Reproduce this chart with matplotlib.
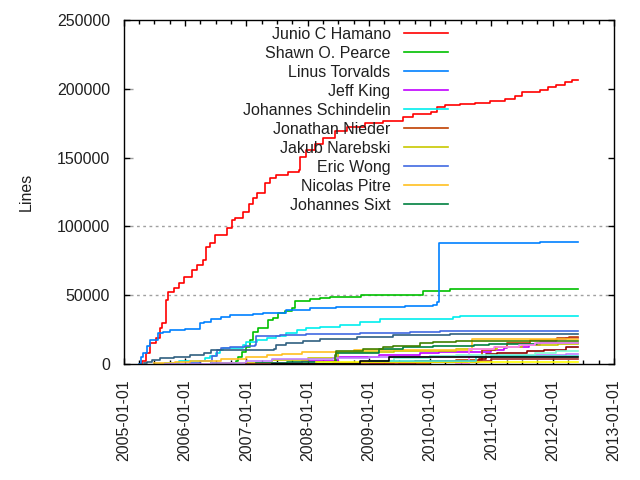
import numpy as np
import matplotlib
matplotlib.use('Agg')
import matplotlib.pyplot as plt
import matplotlib.dates as mdates

#############################
# data: lines per author ####
#############################

end_day = '2012-05-30'

junio_dates = ['2005-04-05', '2005-04-19', '2005-05-11', '2005-06-08', '2005-07-08', '2005-08-03',
               '2005-08-16', '2005-09-09', '2005-09-21', '2005-10-26', '2005-11-22', '2005-12-26',
               '2006-02-08', '2006-03-11', '2006-04-17', '2006-05-07', '2006-05-27', '2006-06-27',
               '2006-09-05', '2006-10-05', '2006-10-24', '2006-12-14', '2007-01-15', '2007-02-10',
               '2007-03-03', '2007-04-22', '2007-05-20', '2007-06-28', '2007-09-05', '2007-11-13',
               '2007-11-18', '2007-12-24', '2008-02-14', '2008-04-03', '2008-06-10', '2008-08-20',
               '2008-12-06', '2009-03-26', '2009-07-24', '2009-09-22', '2010-01-08', '2010-02-08',
               '2010-03-29', '2010-06-27', '2010-09-25', '2010-12-23', '2011-03-22', '2011-05-19',
               '2011-07-01', '2011-10-16', '2011-12-03', '2012-01-20', '2012-03-14', '2012-04-24']
junio_lines = [0, 2000, 8000, 15000, 19000, 26000,
               30000, 46500, 52500, 55000, 58800, 63000,
               68300, 72000, 75600, 85200, 88000, 93700,
               98600, 104600, 106000, 110700, 116000, 120400,
               124000, 131300, 135000, 137400, 139500, 141000,
               150700, 155500, 160000, 164000, 169000, 172500,
               175000, 176800, 179700, 181700, 183400, 187000,
               188500, 189000, 190000, 191000, 192500, 195000,
               197500, 199000, 201500, 203000, 205000, 206500]

shawn_dates = ['2006-06-01', '2006-10-31', '2006-11-14', '2006-12-05', '2006-12-28', '2007-01-23',
               '2007-02-10', '2007-03-12', '2007-05-12', '2007-06-10', '2007-07-09', '2007-08-18',
               '2007-09-27', '2007-10-16', '2008-01-15', '2008-03-14', '2008-05-12', '2008-08-20',
               '2008-11-17', '2009-11-09', '2009-11-20', '2010-04-28']
shawn_lines = [500, 2000, 5300, 9000, 12000, 17400,
               23500, 25900, 32000, 33200, 36800, 38700,
               40500, 46000, 47000, 47700, 48500, 48900,
               49900, 50400, 53300, 54300]

linus_dates = ['2005-04-01', '2005-04-12', '2005-04-25', '2005-05-20', '2005-06-08', '2005-07-20',
               '2005-08-20', '2005-10-01', '2006-01-01', '2006-04-02', '2006-04-22', '2006-06-01',
               '2006-07-31', '2006-09-28', '2007-02-10', '2007-04-10', '2007-08-28', '2008-01-15',
               '2008-06-21', '2009-01-26', '2009-08-04', '2010-01-19', '2010-02-10', '2010-02-24',
               '2011-02-20', '2011-10-15']
linus_lines = [0, 5000, 8000, 13000, 17400, 22500,
               23500, 24700, 25400, 29500, 30700, 32700,
               34400, 35600, 36100, 37300, 39200, 40500,
               41200, 41700, 42400, 42900, 45300, 87700,
               88200, 88400]

jeff_dates = ['2007-04-01', '2007-12-01', '2008-07-01', '2009-03-01', '2009-11-01', '2010-02-20',
              '2010-07-20', '2011-01-01', '2011-03-15', '2011-04-01', '2011-08-15', '2011-10-20',
              '2012-01-20', '2012-03-20']
jeff_lines = [500, 2000, 4800, 6500, 7700, 8500,
              9000, 10200, 11400, 12600, 13800, 16200,
              18000, 19200]

dscho_dates = ['2005-09-01', '2005-11-22', '2006-04-27', '2006-05-27', '2006-07-05', '2006-07-26',
               '2006-08-15', '2006-12-14', '2007-01-01', '2007-03-03', '2007-05-01', '2007-06-28',
               '2007-08-28', '2007-10-27', '2007-12-24', '2008-03-14', '2008-07-12', '2008-11-06',
               '2009-03-07', '2009-10-30', '2010-05-18', '2010-06-27']
dscho_lines = [500, 2400, 4100, 5500, 7700, 10200,
               11400, 13800, 16200, 17400, 18700, 20300,
               22300, 24700, 25900, 27100, 28300, 30700,
               32400, 32900, 33900, 34600]

nieder_dates = ['2009-07-01', '2010-01-01', '2010-06-01', '2010-11-05', '2011-01-22', '2011-04-01',
                '2011-08-20', '2012-01-25', '2012-04-05']
nieder_lines = [500, 1500, 2900, 10200, 12600, 15500,
                17400, 18600, 19600]

jakub_dates = ['2006-08-01', '2007-06-01', '2008-01-01', '2008-07-01', '2009-06-01', '2010-06-01',
               '2011-02-01', '2011-07-01', '2012-02-01']
jakub_lines = [500, 3000, 4500, 8500, 9500, 11000,
               12000, 13500, 14500]

eric_dates = ['2006-01-30', '2006-04-01', '2006-06-11', '2006-07-10', '2006-07-31', '2006-09-24',
              '2006-12-24', '2007-02-21', '2007-02-27', '2007-07-19', '2007-12-24', '2008-11-06',
              '2009-09-01', '2010-02-28']
eric_lines = [500, 2000, 6000, 10200, 11400, 12600,
              13100, 13800, 20300, 21100, 21800, 22300,
              23300, 24000]

nico_dates = ['2005-07-01', '2005-11-01', '2006-02-01', '2006-08-01', '2007-01-01', '2007-05-01',
              '2007-08-01', '2007-12-01', '2008-03-15', '2008-10-01', '2010-09-06']
nico_lines = [500, 1200, 2400, 3500, 5000, 6500,
              7300, 8500, 9000, 10200, 18000]

sixt_dates = ['2007-03-01', '2007-09-01', '2008-06-20', '2009-03-01', '2009-07-20', '2010-01-19',
              '2010-09-20', '2010-12-15', '2011-10-01']
sixt_lines = [500, 1500, 8000, 11100, 12100, 13300,
              13800, 14500, 15300]

# authors that gnuplot plotted but left out of the key
a11_dates = ['2005-09-01', '2006-06-01', '2007-01-01', '2007-06-01', '2008-06-01', '2009-01-01',
             '2010-01-01', '2011-01-01', '2012-03-20']
a11_lines = [300, 800, 2000, 3400, 4000, 5000, 6000, 6300, 7300]

a12_dates = ['2005-04-30', '2005-05-18', '2005-06-17', '2005-08-03', '2005-10-26', '2006-01-30',
             '2006-04-22', '2006-06-01', '2007-06-14', '2007-06-28', '2007-08-28', '2007-12-06',
             '2008-03-14', '2008-10-19', '2009-05-26', '2010-04-28']
a12_lines = [500, 1700, 2900, 4000, 5300, 6500,
             7700, 10200, 10700, 13800, 15500, 17000,
             18000, 19800, 21100, 21500]

a13_dates = ['2008-09-01', '2009-06-01', '2010-10-20', '2010-12-01', '2011-02-01', '2011-08-01',
             '2011-11-10', '2012-03-20']
a13_lines = [500, 1200, 3500, 7300, 8000, 9200, 10400, 12400]

a14_dates = ['2008-05-01', '2008-06-10', '2008-06-21', '2008-11-29', '2009-03-26', '2009-05-26',
             '2009-10-30', '2010-01-19', '2010-06-03']
a14_lines = [1500, 6500, 9700, 10700, 12100, 13300, 15000, 15800, 16700]

a15_dates = ['2010-06-01', '2010-08-22', '2011-01-15', '2011-06-15', '2011-09-15']
a15_lines = [300, 11000, 12000, 14000, 15500]

a16_dates = ['2008-03-01', '2009-01-01', '2009-06-01', '2010-01-01', '2010-06-01', '2011-09-15',
             '2012-01-20']
a16_lines = [500, 2000, 4000, 5500, 6300, 8000, 9700]

a17_dates = ['2007-01-01', '2008-06-01', '2009-10-01', '2011-01-01']
a17_lines = [300, 1000, 2500, 3800]

a18_dates = ['2008-02-18']
a18_lines = [1200]

a19_dates = ['2009-01-01', '2010-10-01', '2011-01-01']
a19_lines = [2000, 5000, 5800]

a20_dates = ['2007-06-01', '2008-11-06', '2009-05-01']
a20_lines = [200, 2000, 4900]

key_names = ['Junio C Hamano', 'Shawn O. Pearce', 'Linus Torvalds', 'Jeff King',
             'Johannes Schindelin', 'Jonathan Nieder', 'Jakub Narebski', 'Eric Wong',
             'Nicolas Pitre', 'Johannes Sixt']

# gnuplot png terminal line colours
colors = ['#ff0000', '#00c000', '#0080ff', '#c000ff', '#00eeee', '#c04000', '#c8c800',
          '#4169e1', '#ffc020', '#008040', '#c080ff', '#306080', '#8b0000', '#408000',
          '#ff80ff', '#7fffd4', '#a52a2a', '#ffff00', '#40e0d0', '#000000']

series = [(junio_dates, junio_lines), (shawn_dates, shawn_lines), (linus_dates, linus_lines),
          (jeff_dates, jeff_lines), (dscho_dates, dscho_lines), (nieder_dates, nieder_lines),
          (jakub_dates, jakub_lines), (eric_dates, eric_lines), (nico_dates, nico_lines),
          (sixt_dates, sixt_lines), (a11_dates, a11_lines), (a12_dates, a12_lines),
          (a13_dates, a13_lines), (a14_dates, a14_lines), (a15_dates, a15_lines),
          (a16_dates, a16_lines), (a17_dates, a17_lines), (a18_dates, a18_lines),
          (a19_dates, a19_lines), (a20_dates, a20_lines)]

#############################
# plot ######################
#############################

plt.rcParams['font.family'] = ['Liberation Sans', 'DejaVu Sans']
plt.rcParams['font.size'] = 11.5

fig = plt.figure(figsize=(6.4, 4.8), dpi=100)
ax = fig.add_axes([124/640, 116/480, 490/640, 344/480])

# grid (only two rows show in the reference)
for g in [50000, 100000]:
    ax.axhline(g, color='#a0a0a0', lw=1, ls=(0, (2, 2.5)), zorder=0)
for g in [150000, 200000]:
    ax.axhline(g, xmax=0.025, color='#a0a0a0', lw=1, ls=(0, (2, 2.5)), zorder=0)

for i, (d, v) in enumerate(series):
    d = np.array(d + [end_day], dtype='datetime64[D]')
    v = v + [v[-1]]
    lab = key_names[i] if i < len(key_names) else '_nolegend_'
    ax.plot(d, v, drawstyle='steps-post', color=colors[i], lw=1.2, label=lab)

ax.set_xlim(np.datetime64('2005-01-01'), np.datetime64('2013-01-01'))
ax.set_ylim(0, 250000)
ax.set_yticks(range(0, 250001, 50000))
ax.set_ylabel('Lines', color='#202020')
ax.yaxis.set_label_coords((34 - 124) / 490, 0.5)

ax.xaxis.set_major_locator(mdates.YearLocator())
ax.xaxis.set_minor_locator(mdates.MonthLocator(bymonth=[4, 7, 10]))
ax.xaxis.set_major_formatter(mdates.DateFormatter('%Y-%m-%d'))
plt.setp(ax.get_xticklabels(), rotation=90)

ax.tick_params(which='both', direction='in', top=True, right=True, width=1, colors='black')
ax.tick_params(which='major', length=4.5, labelcolor='#202020')
ax.tick_params(axis='y', which='major', pad=10)
ax.tick_params(axis='x', which='major', pad=11)
ax.tick_params(which='minor', length=3)
for s in ax.spines.values():
    s.set_linewidth(1)

leg = ax.legend(loc='upper right', bbox_to_anchor=(448/640, 1 - 27/480),
                bbox_transform=fig.transFigure, frameon=False, markerfirst=False,
                handlelength=2.75, handletextpad=0.85, labelspacing=0.25,
                borderpad=0, borderaxespad=0)
for t in leg.get_texts():
    t.set_color('#202020')

fig.savefig('out.png', dpi=100)
